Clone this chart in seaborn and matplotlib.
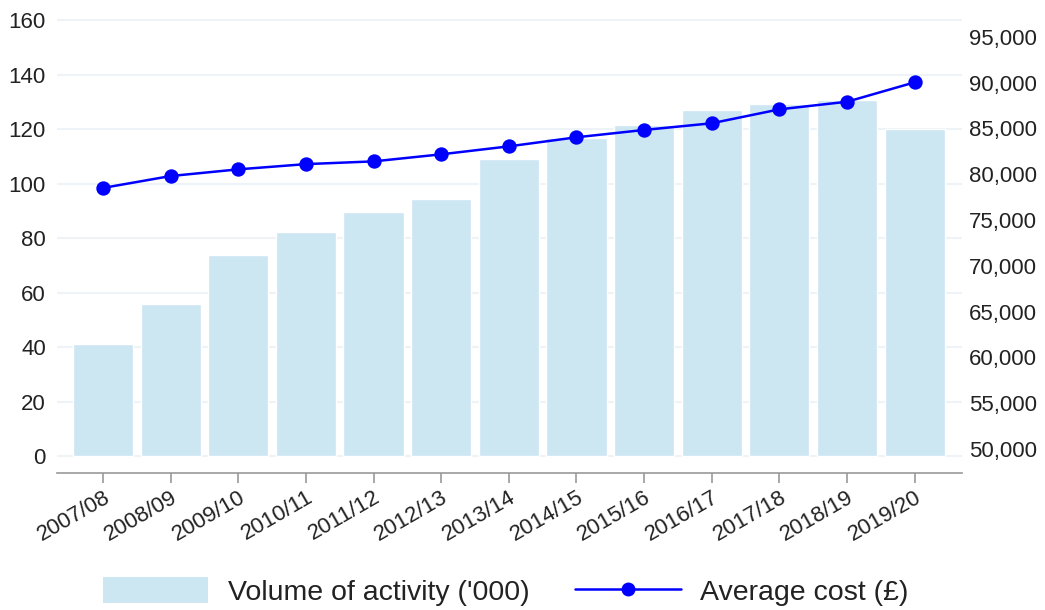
import numpy as np
import matplotlib.pyplot as plt
from matplotlib.patches import Patch
from matplotlib.lines import Line2D
from matplotlib.ticker import FuncFormatter
import seaborn as sns

years = ['2007/08', '2008/09', '2009/10', '2010/11', '2011/12', '2012/13', '2013/14',
         '2014/15', '2015/16', '2016/17', '2017/18', '2018/19', '2019/20']
volume = [41.3, 55.7, 73.7, 82.2, 89.6, 94.3, 109.2, 116.6, 121.7, 127.2, 129.4, 130.6, 120.0]
avg_cost = [78500, 79800, 80530, 81100, 81400, 82170, 83040, 84030, 84830, 85560, 87080, 87910, 90030]
left_ticks = [0, 20, 40, 60, 80, 100, 120, 140, 160]
right_ticks = [50000, 55000, 60000, 65000, 70000, 75000, 80000, 85000, 90000, 95000]

bar_color = '#cce6f2'
line_color = '#0000ff'
text_color = '#222222'

sns.set_style('white')
plt.rcParams['font.family'] = ['Liberation Sans', 'DejaVu Sans']

fig = plt.figure(figsize=(10.45, 6.1), dpi=100)
ax = fig.add_axes([57 / 1045, 137 / 610, 905 / 1045, 458 / 610])

sns.barplot(x=years, y=volume, color=bar_color, saturation=1, width=0.89, ax=ax, zorder=2)

ax2 = ax.twinx()
sns.pointplot(x=years, y=avg_cost, color=line_color, markers='o', ax=ax2,
              markersize=9, linewidth=1.8, zorder=5)

ax.set_xlim(-0.68, 12.7)
ax.set_ylim(-6.24, 161.95)
ax2.set_ylim(47380, 97380)

ax.set_yticks(left_ticks)
ax2.set_yticks(right_ticks)
ax2.yaxis.set_major_formatter(FuncFormatter(lambda v, p: f'{int(v):,}'))

ax.set_axisbelow(True)
ax.yaxis.grid(True, color='#edf3f6', linewidth=1.5, zorder=0)
ax.xaxis.grid(False)
ax2.grid(False)

for a in (ax, ax2):
    a.set_xlabel('')
    a.set_ylabel('')
    for s in ('left', 'right', 'top'):
        a.spines[s].set_visible(False)
ax2.spines['bottom'].set_visible(False)
ax.spines['bottom'].set_color('#999999')
ax.spines['bottom'].set_linewidth(1.2)

ax.tick_params(axis='y', length=0, labelsize=16, labelcolor=text_color, pad=8)
ax2.tick_params(axis='y', length=0, labelsize=16, labelcolor=text_color, pad=5)
ax.tick_params(axis='x', length=7, width=1.2, color='#999999', labelsize=16,
               labelcolor=text_color, pad=3, bottom=True)
plt.setp(ax.get_xticklabels(), rotation=30, ha='right', rotation_mode='anchor')

handles = [Patch(facecolor=bar_color, edgecolor='none'),
           Line2D([0], [0], color=line_color, lw=1.8, marker='o', markersize=9)]
labels = ["Volume of activity ('000)", 'Average cost (£)']
fig.legend(handles, labels, loc='center', bbox_to_anchor=(0.484, 0.03), ncol=2,
           frameon=False, fontsize=20.5, handlelength=3.7, handleheight=1.0,
           columnspacing=1.6, handletextpad=0.7, labelcolor=text_color)

fig.savefig('out.png', dpi=100)
